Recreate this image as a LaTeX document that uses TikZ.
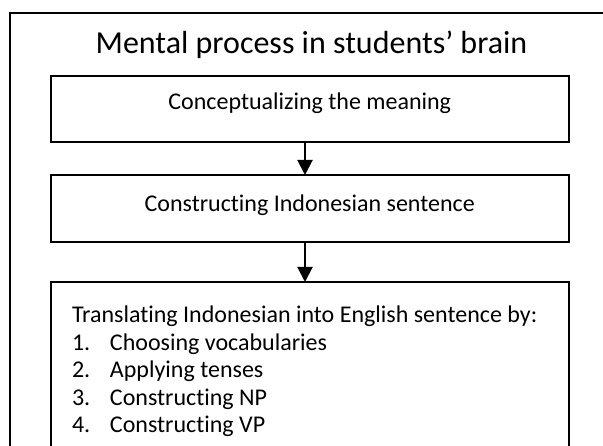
\documentclass[tikz,border=0pt]{standalone}
\usepackage{fontspec}
\setmainfont{Carlito}[Ligatures={NoCommon}]
\usetikzlibrary{arrows.meta, positioning}
\tikzstyle{line} = [draw, line width=2pt, -{Triangle[length=15pt, width=15pt]}]

\begin{document}
\begin{tikzpicture}[x=1pt, y=1pt, node distance=33pt]
  % Define styles
  \tikzstyle{stepbox} = [rectangle, draw=black, line width=2pt, outer sep=0pt, minimum width=518.5pt, text centered, font=\fontsize{24}{27.5}\selectfont]
  \tikzstyle{heading} = [font=\fontsize{32}{38}\selectfont, anchor=base]

  \useasboundingbox (0,0) rectangle (603,445);
  \clip (0,0) rectangle (603,445);
  \fill [white] (0,0) rectangle (603,445);
  \draw [line width=2pt] (9.5,431.5) rectangle (625,-25);

  % Place nodes
  \node [heading] (title) at (311.5,391) {Mental process in students’ brain};
  \node [stepbox, minimum height=66pt, text height=17pt, text depth=15pt] (concept) at (309.75,336) {Conceptualizing the meaning};
  \node [stepbox, below=33pt of concept, minimum height=67pt, text height=17pt, text depth=10pt] (construct) {Constructing Indonesian sentence};
  \node [stepbox, below=40pt of construct, minimum height=179pt, align=flush left, text width=475.5pt, inner xsep=21.5pt] (translate) {\mbox{Translating Indonesian into English sentence by:}\\
    \makebox[38pt][l]{1.}Choosing vocabularies\\
    \makebox[38pt][l]{2.}Applying tenses\\
    \makebox[38pt][l]{3.}Constructing NP\\
    \makebox[38pt][l]{4.}Constructing VP};

  % Draw edges
  \path [line] ([xshift=-4.75pt]concept.south) -- ([xshift=-4.75pt]construct.north);
  \path [line] ([xshift=-4.75pt]construct.south) -- ([xshift=-4.75pt]translate.north);
\end{tikzpicture}
\end{document}
